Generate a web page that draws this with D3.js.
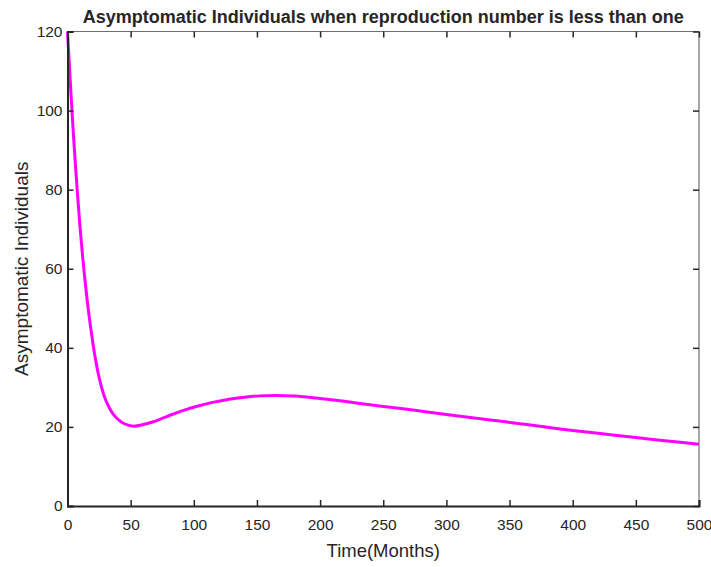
<!DOCTYPE html>
<html>
<head>
<meta charset="utf-8">
<script src="https://cdn.jsdelivr.net/npm/d3@7"></script>
<style>
  body { margin: 0; background: #fff; }
  svg { display: block; }
  text { font-family: "Liberation Sans", Arial, sans-serif; fill: #262626; }
</style>
</head>
<body>
<svg id="chart" width="711" height="567"></svg>
<script>
// Asymptomatic population over time (months)
const timeMonths = [0, 2, 4, 6, 8, 10, 12, 14, 16, 18, 20, 22, 24, 26, 28, 30, 33, 36, 40, 45, 52, 60, 68, 76, 85, 95, 105, 115, 128, 140, 152, 165, 180, 197, 222, 247, 275, 303, 330, 355, 380, 400, 425, 450, 475, 500];
const asymptomatic = [120, 108.5, 97.5, 87.5, 78.5, 70.3, 63, 56.6, 50.9, 45.9, 41.4, 37.4, 34, 31.2, 28.9, 27.0, 24.9, 23.3, 21.9, 20.8, 20.2, 20.6, 21.3, 22.3, 23.4, 24.5, 25.4, 26.2, 27.0, 27.5, 27.85, 27.95, 27.8, 27.3, 26.35, 25.3, 24.2, 23.0, 21.95, 20.95, 19.9, 19.1, 18.2, 17.3, 16.45, 15.6];
const xTicks = [0, 50, 100, 150, 200, 250, 300, 350, 400, 450, 500];
const yTicks = [0, 20, 40, 60, 80, 100, 120];

const svg = d3.select("#chart");
const plot = { left: 67.5, right: 699, top: 31.5, bottom: 506 };

const x = d3.scaleLinear().domain([0, 500]).range([plot.left, plot.right]);
const y = d3.scaleLinear().domain([0, 120]).range([plot.bottom, plot.top]);

const tickLen = 6;

// box (top/right lighter)
svg.append("line").attr("x1", plot.left).attr("x2", plot.right).attr("y1", plot.top).attr("y2", plot.top)
  .attr("stroke", "#6e6e6e").attr("stroke-width", 1.2);
svg.append("line").attr("x1", plot.right).attr("x2", plot.right).attr("y1", plot.top).attr("y2", plot.bottom)
  .attr("stroke", "#6e6e6e").attr("stroke-width", 1.2);

// curve
const line = d3.line().x((d, i) => x(timeMonths[i])).y(d => y(d)).curve(d3.curveCatmullRom.alpha(0.5));
svg.append("path").datum(asymptomatic)
  .attr("d", line).attr("fill", "none").attr("stroke", "#ff00ff").attr("stroke-width", 3);

// bottom axis
const xAxis = svg.append("g").attr("transform", `translate(0,${plot.bottom})`)
  .call(d3.axisBottom(x).tickValues(xTicks).tickSize(-tickLen).tickPadding(13).tickFormat(d3.format("d")));
// top ticks
svg.append("g").attr("transform", `translate(0,${plot.top})`)
  .call(d3.axisTop(x).tickValues(xTicks).tickSize(-tickLen).tickFormat(""))
  .call(g => g.select(".domain").remove());

// left axis
const yAxis = svg.append("g").attr("transform", `translate(${plot.left},0)`)
  .call(d3.axisLeft(y).tickValues(yTicks).tickSize(-tickLen).tickPadding(5).tickFormat(d3.format("d")));
// right ticks
svg.append("g").attr("transform", `translate(${plot.right},0)`)
  .call(d3.axisRight(y).tickValues(yTicks).tickSize(-tickLen).tickFormat(""))
  .call(g => g.select(".domain").remove());

svg.selectAll(".tick line").attr("stroke", "#262626").attr("stroke-width", 1.5);
[xAxis, yAxis].forEach(g => {
  g.select(".domain").attr("stroke", "#262626").attr("stroke-width", 2);
  g.selectAll(".tick text").style("font-size", "15.5px").attr("fill", "#262626");
});

// title
svg.append("text").attr("x", (plot.left + plot.right) / 2).attr("y", 23)
  .attr("text-anchor", "middle").style("font-size", "18px").style("font-weight", "bold")
  .attr("fill", "#000")
  .text("Asymptomatic Individuals when reproduction number is less than one");

// axis labels
svg.append("text").attr("x", (plot.left + plot.right) / 2).attr("y", 557)
  .attr("text-anchor", "middle").style("font-size", "18.5px")
  .text("Time(Months)");
svg.append("text").attr("transform", `translate(28,${(plot.top + plot.bottom) / 2}) rotate(-90)`)
  .attr("text-anchor", "middle").style("font-size", "19px")
  .text("Asymptomatic Individuals");
</script>
</body>
</html>
